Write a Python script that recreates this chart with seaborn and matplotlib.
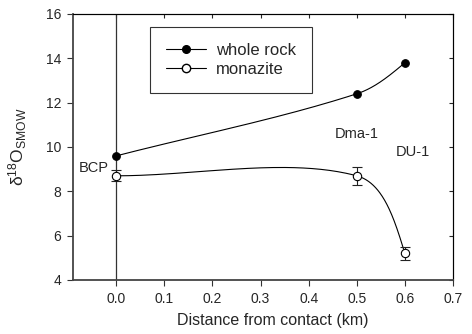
import numpy as np
import pandas as pd
import seaborn as sns
import matplotlib
matplotlib.use("Agg")
import matplotlib.pyplot as plt
from matplotlib.lines import Line2D

# ---------------------- Data ----------------------------------------------------
distance = [0.0, 0.5, 0.6]
whole_rock = [9.6, 12.4, 13.8]
monazite = [8.7, 8.7, 5.2]
monazite_err = [0.25, 0.4, 0.3]
sample_names = ["BCP", "Dma-1", "DU-1"]
name_x = [-0.046, 0.5, 0.617]
name_y = [9.05, 10.6, 9.77]
xticks = [0.0, 0.1, 0.2, 0.3, 0.4, 0.5, 0.6, 0.7]
yticks = [4, 6, 8, 10, 12, 14, 16]

# ---------------------- Spline helper -------------------------------------------
# parametric hermite spline in screen-ish units (like the plotting package does)
def smooth_curve(xs, ys, sx=481.0, sy=22.17, n=80):
    P = np.column_stack([np.asarray(xs) * sx, np.asarray(ys) * sy])
    d = np.diff(P, axis=0)
    L = np.hypot(d[:, 0], d[:, 1])
    u = d / L[:, None]
    m = np.zeros_like(P)
    m[1:-1] = (L[:-1, None] * u[:-1] + L[1:, None] * u[1:]) / (L[:-1] + L[1:])[:, None]
    m[0] = u[0]
    m[-1] = 1.5 * u[-1] - 0.5 * m[-2]
    out = []
    s = np.linspace(0, 1, n)[:, None]
    h00 = 2 * s**3 - 3 * s**2 + 1
    h10 = s**3 - 2 * s**2 + s
    h01 = -2 * s**3 + 3 * s**2
    h11 = s**3 - s**2
    for i in range(len(P) - 1):
        seg = h00 * P[i] + h10 * L[i] * m[i] + h01 * P[i + 1] + h11 * L[i] * m[i + 1]
        out.append(seg)
    out = np.vstack(out)
    return pd.DataFrame({"x": out[:, 0] / sx, "y": out[:, 1] / sy})

# ---------------------- Plot ----------------------------------------------------
sns.set_style("ticks")
plt.rcParams["font.family"] = ["Liberation Sans", "DejaVu Sans"]
plt.rcParams["mathtext.fontset"] = "custom"
plt.rcParams["mathtext.rm"] = "Liberation Sans"
plt.rcParams["mathtext.it"] = "Liberation Sans"

fig = plt.figure(figsize=(4.72, 3.34), dpi=100)
ax = fig.add_axes([0.1547, 0.1617, 0.805, 0.7964])

ax.axvline(0, color="#333333", lw=0.9, zorder=1)

wr_curve = smooth_curve(distance, whole_rock)
mz_curve = smooth_curve(distance, monazite)
sns.lineplot(data=wr_curve, x="x", y="y", sort=False, color="black", lw=0.8, ax=ax, zorder=2)
sns.lineplot(data=mz_curve, x="x", y="y", sort=False, color="black", lw=0.8, ax=ax, zorder=2)

ax.errorbar(distance, monazite, yerr=monazite_err, fmt="none", ecolor="#222222",
            elinewidth=0.8, capsize=3.5, capthick=0.8, zorder=3)

pts = pd.DataFrame({"x": distance, "wr": whole_rock, "mz": monazite})
sns.scatterplot(data=pts, x="x", y="wr", color="black", edgecolor="black", s=30,
                linewidth=0.8, ax=ax, zorder=4)
sns.scatterplot(data=pts, x="x", y="mz", color="white", edgecolor="black", s=36,
                linewidth=0.8, ax=ax, zorder=4)

for name, tx, ty in zip(sample_names, name_x, name_y):
    ax.text(tx, ty, name, fontsize=10.5, ha="center", va="center")

ax.set_xlim(-0.09, 0.7)
ax.set_ylim(4, 16)
ax.set_xticks(xticks)
ax.set_xticklabels([f"{v:.1f}" for v in xticks])
ax.set_yticks(yticks)
ax.tick_params(direction="out", length=4.5, width=0.8, labelsize=10, color="#333333",
               pad=4)
ax.set_xlabel("Distance from contact (km)", fontsize=11.5)
ax.set_ylabel(r"δ$^{18}$O$_{\mathrm{SMOW}}$", fontsize=12.5)
ax.xaxis.set_label_coords(0.525, -0.125)
ax.yaxis.set_label_coords(-0.115, 0.5)

for side in ["left", "bottom"]:
    ax.spines[side].set_linewidth(1.3)
    ax.spines[side].set_color("#444444")
for side in ["top", "right"]:
    ax.spines[side].set_linewidth(0.8)
    ax.spines[side].set_color("black")

# inward ticks on top and right
top = ax.secondary_xaxis("top")
top.set_xticks(xticks)
top.tick_params(direction="in", length=3, width=0.8, labeltop=False)
right = ax.secondary_yaxis("right")
right.set_yticks(yticks)
right.tick_params(direction="in", length=3, width=0.8, labelright=False)

handles = [
    Line2D([], [], color="black", lw=0.8, marker="o", markersize=5.5,
           markerfacecolor="black", markeredgecolor="black"),
    Line2D([], [], color="black", lw=0.8, marker="o", markersize=6,
           markerfacecolor="white", markeredgecolor="black"),
]
leg = ax.legend(handles, ["whole rock", "monazite"], loc="upper left",
                bbox_to_anchor=(0.203, 0.951), fontsize=12, frameon=True,
                fancybox=False, edgecolor="black", handlelength=2.4,
                borderpad=0.95, labelspacing=0.25, handletextpad=0.6,
                borderaxespad=0)
leg.get_frame().set_linewidth(0.8)

fig.savefig("out.png", dpi=100)
